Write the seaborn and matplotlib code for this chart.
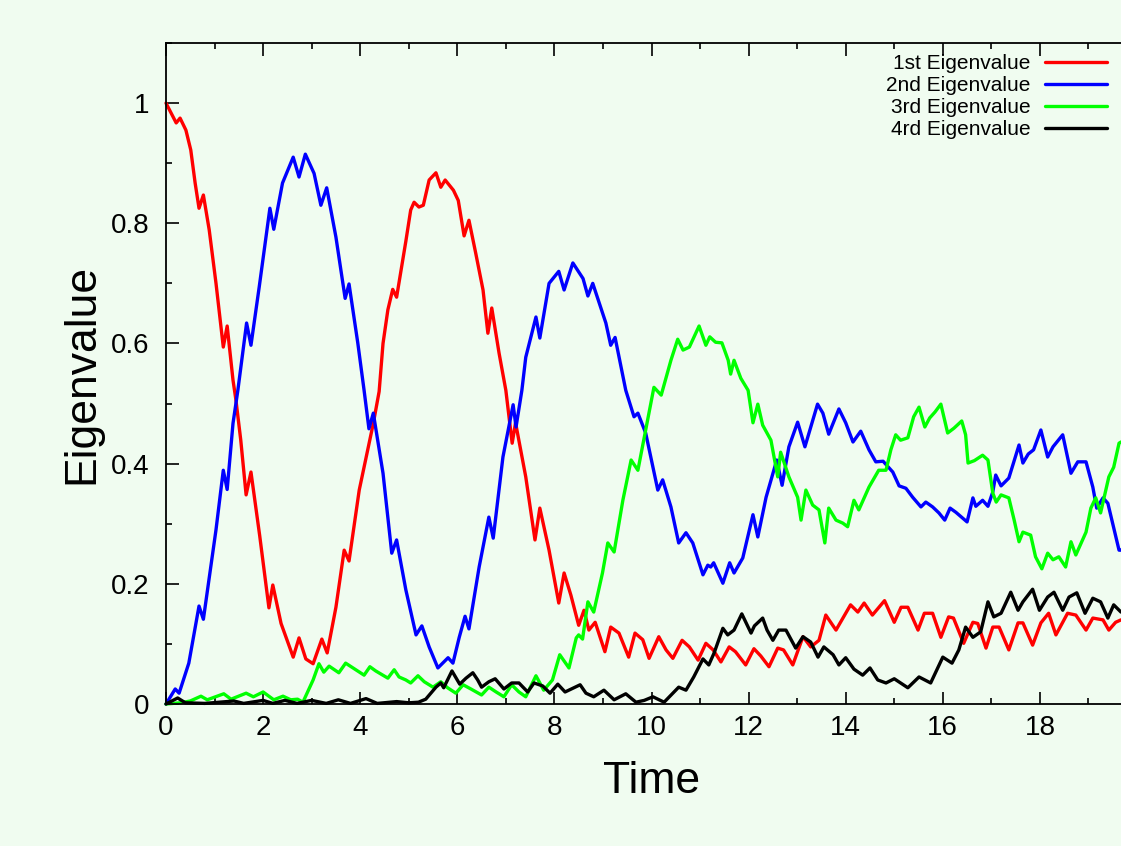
import numpy as np
import pandas as pd
import matplotlib
matplotlib.use("Agg")
import matplotlib.pyplot as plt
from matplotlib.lines import Line2D
from matplotlib.ticker import MultipleLocator
import seaborn as sns

# ---------------- data ----------------
series_names = ["1st Eigenvalue", "2nd Eigenvalue", "3rd Eigenvalue", "4rd Eigenvalue"]
series_colors = ["#ff0000", "#0000ff", "#00ff00", "#000000"]

red_t = [0, 0.21, 0.29, 0.41, 0.51, 0.60, 0.68, 0.77, 0.89, 1.03, 1.18, 1.26, 1.38, 1.44, 1.54,
         1.65, 1.75, 1.93, 2.12, 2.2, 2.37, 2.62, 2.74, 2.88, 3.03, 3.21, 3.32, 3.5, 3.67, 3.77,
         3.98, 4.27, 4.39, 4.47, 4.57, 4.67, 4.75, 4.94, 5.04, 5.11, 5.21, 5.3, 5.42, 5.56, 5.66,
         5.75, 5.92, 6.02, 6.14, 6.24, 6.38, 6.53, 6.63, 6.71, 6.86, 7.0, 7.13, 7.2, 7.41, 7.6,
         7.7, 7.89, 8.09, 8.2, 8.34, 8.5, 8.61, 8.71, 8.84, 9.04, 9.16, 9.33, 9.53, 9.66, 9.82,
         9.95, 10.15, 10.3, 10.44, 10.63, 10.78, 10.96, 11.12, 11.27, 11.43, 11.6, 11.73, 11.94,
         12.11, 12.25, 12.42, 12.6, 12.72, 12.91, 13.12, 13.28, 13.45, 13.59, 13.8, 14.0, 14.1,
         14.25, 14.38, 14.55, 14.8, 15.0, 15.14, 15.28, 15.49, 15.62, 15.79, 15.96, 16.12, 16.22,
         16.43, 16.62, 16.72, 16.89, 17.03, 17.16, 17.36, 17.55, 17.65, 17.85, 18.02, 18.18,
         18.33, 18.57, 18.74, 18.95, 19.09, 19.3, 19.42, 19.56, 19.67]
red_v = [1.0, 0.967, 0.975, 0.955, 0.922, 0.867, 0.825, 0.847, 0.789, 0.70, 0.594, 0.629, 0.539,
         0.506, 0.439, 0.348, 0.386, 0.28, 0.16, 0.198, 0.134, 0.078, 0.11, 0.075, 0.067, 0.108,
         0.085, 0.161, 0.256, 0.238, 0.356, 0.467, 0.52, 0.60, 0.656, 0.69, 0.677, 0.77, 0.822,
         0.835, 0.827, 0.83, 0.872, 0.884, 0.86, 0.872, 0.855, 0.838, 0.779, 0.805, 0.75, 0.689,
         0.617, 0.659, 0.584, 0.522, 0.434, 0.468, 0.378, 0.273, 0.326, 0.256, 0.168, 0.218,
         0.181, 0.131, 0.156, 0.123, 0.136, 0.087, 0.128, 0.118, 0.078, 0.118, 0.107, 0.076,
         0.112, 0.09, 0.076, 0.106, 0.095, 0.073, 0.101, 0.09, 0.07, 0.095, 0.087, 0.065, 0.092,
         0.08, 0.062, 0.093, 0.09, 0.065, 0.112, 0.095, 0.106, 0.148, 0.123, 0.151, 0.165, 0.153,
         0.168, 0.148, 0.172, 0.136, 0.161, 0.161, 0.123, 0.151, 0.151, 0.111, 0.145, 0.143,
         0.101, 0.136, 0.134, 0.093, 0.128, 0.128, 0.09, 0.135, 0.135, 0.098, 0.135, 0.151,
         0.115, 0.151, 0.148, 0.123, 0.143, 0.14, 0.123, 0.136, 0.14]

blue_t = [0, 0.19, 0.27, 0.47, 0.68, 0.77, 1.03, 1.18, 1.26, 1.38, 1.48, 1.66, 1.75, 1.92, 2.14,
          2.22, 2.4, 2.62, 2.74, 2.87, 3.05, 3.19, 3.31, 3.5, 3.69, 3.77, 3.95, 4.08, 4.18, 4.27,
          4.47, 4.65, 4.75, 4.94, 5.15, 5.27, 5.42, 5.6, 5.81, 5.91, 6.04, 6.16, 6.24, 6.45, 6.65,
          6.74, 6.94, 7.15, 7.21, 7.33, 7.41, 7.62, 7.7, 7.89, 8.09, 8.2, 8.38, 8.59, 8.69, 8.79,
          9.06, 9.16, 9.25, 9.47, 9.64, 9.72, 9.88, 10.13, 10.23, 10.4, 10.56, 10.71, 10.85,
          11.06, 11.16, 11.22, 11.28, 11.47, 11.61, 11.7, 11.88, 12.09, 12.19, 12.36, 12.58,
          12.69, 12.83, 13.01, 13.16, 13.42, 13.53, 13.65, 13.86, 14.0, 14.15, 14.31, 14.48,
          14.62, 14.77, 14.97, 15.1, 15.24, 15.38, 15.55, 15.65, 15.79, 15.92, 16.04, 16.15,
          16.27, 16.5, 16.62, 16.68, 16.82, 16.93, 17.03, 17.09, 17.2, 17.36, 17.57, 17.65,
          17.76, 17.87, 18.02, 18.16, 18.27, 18.47, 18.64, 18.78, 18.95, 19.09, 19.17, 19.3,
          19.4, 19.63, 19.67]
blue_v = [0.0, 0.025, 0.018, 0.068, 0.163, 0.141, 0.29, 0.389, 0.357, 0.467, 0.522, 0.634, 0.597,
          0.694, 0.825, 0.79, 0.867, 0.91, 0.877, 0.915, 0.883, 0.83, 0.859, 0.777, 0.675, 0.699,
          0.601, 0.522, 0.458, 0.484, 0.384, 0.251, 0.273, 0.19, 0.115, 0.13, 0.095, 0.06, 0.077,
          0.068, 0.111, 0.146, 0.125, 0.228, 0.311, 0.276, 0.411, 0.498, 0.461, 0.522, 0.577,
          0.644, 0.609, 0.70, 0.72, 0.689, 0.734, 0.708, 0.679, 0.70, 0.634, 0.597, 0.61, 0.522,
          0.478, 0.484, 0.451, 0.356, 0.373, 0.328, 0.268, 0.285, 0.268, 0.215, 0.231, 0.228,
          0.235, 0.201, 0.235, 0.218, 0.243, 0.315, 0.278, 0.344, 0.406, 0.364, 0.428, 0.469,
          0.428, 0.499, 0.484, 0.449, 0.491, 0.468, 0.436, 0.454, 0.423, 0.403, 0.404, 0.386,
          0.363, 0.359, 0.344, 0.328, 0.336, 0.328, 0.318, 0.306, 0.326, 0.319, 0.303, 0.343,
          0.329, 0.339, 0.329, 0.353, 0.381, 0.363, 0.376, 0.431, 0.401, 0.416, 0.423, 0.456,
          0.411, 0.428, 0.448, 0.384, 0.403, 0.403, 0.361, 0.326, 0.343, 0.334, 0.256, 0.256]

green_t = [0, 0.3, 0.5, 0.72, 0.85, 1.19, 1.34, 1.65, 1.8, 2.0, 2.22, 2.41, 2.57, 2.71, 2.82,
           3.03, 3.15, 3.25, 3.36, 3.56, 3.7, 3.91, 4.08, 4.2, 4.32, 4.57, 4.7, 4.8, 4.94, 5.04,
           5.19, 5.32, 5.5, 5.66, 5.8, 5.97, 6.12, 6.28, 6.5, 6.65, 6.8, 6.96, 7.12, 7.27, 7.41,
           7.62, 7.78, 7.96, 8.11, 8.3, 8.45, 8.5, 8.58, 8.69, 8.81, 8.99, 9.1, 9.23, 9.41, 9.58,
           9.72, 9.88, 10.05, 10.2, 10.4, 10.54, 10.65, 10.78, 10.98, 11.12, 11.2, 11.32, 11.45,
           11.58, 11.63, 11.7, 11.84, 11.99, 12.09, 12.19, 12.29, 12.46, 12.6, 12.66, 12.83,
           13.01, 13.08, 13.18, 13.32, 13.45, 13.57, 13.65, 13.8, 13.94, 14.04, 14.17, 14.27,
           14.48, 14.68, 14.83, 14.93, 15.03, 15.13, 15.28, 15.4, 15.51, 15.63, 15.73, 15.84,
           15.96, 16.1, 16.23, 16.39, 16.47, 16.52, 16.65, 16.82, 16.93, 17.03, 17.1, 17.2, 17.36,
           17.47, 17.57, 17.65, 17.81, 17.91, 18.04, 18.16, 18.27, 18.39, 18.53, 18.64, 18.74,
           18.95, 19.05, 19.15, 19.25, 19.42, 19.52, 19.63, 19.67]
green_v = [0.0, 0.002, 0.005, 0.013, 0.007, 0.017, 0.008, 0.018, 0.012, 0.02, 0.007, 0.013, 0.007,
           0.008, 0.003, 0.04, 0.067, 0.053, 0.063, 0.052, 0.068, 0.057, 0.048, 0.062, 0.055,
           0.043, 0.057, 0.045, 0.04, 0.035, 0.047, 0.037, 0.028, 0.037, 0.027, 0.018, 0.032,
           0.025, 0.015, 0.028, 0.02, 0.012, 0.032, 0.02, 0.012, 0.047, 0.023, 0.04, 0.082, 0.06,
           0.11, 0.115, 0.108, 0.17, 0.153, 0.218, 0.268, 0.253, 0.339, 0.406, 0.389, 0.456,
           0.527, 0.514, 0.572, 0.607, 0.589, 0.594, 0.629, 0.597, 0.611, 0.602, 0.601, 0.572,
           0.549, 0.572, 0.542, 0.522, 0.468, 0.499, 0.464, 0.439, 0.378, 0.419, 0.378, 0.344,
           0.306, 0.356, 0.331, 0.323, 0.268, 0.326, 0.306, 0.301, 0.295, 0.339, 0.323, 0.361,
           0.389, 0.389, 0.423, 0.448, 0.439, 0.443, 0.478, 0.494, 0.461, 0.476, 0.486, 0.499,
           0.451, 0.459, 0.471, 0.448, 0.401, 0.405, 0.414, 0.406, 0.351, 0.336, 0.348, 0.343,
           0.306, 0.27, 0.286, 0.281, 0.245, 0.225, 0.251, 0.24, 0.245, 0.228, 0.27, 0.248,
           0.286, 0.326, 0.343, 0.318, 0.378, 0.394, 0.434, 0.436]

black_t = [0, 0.24, 0.4, 0.8, 1.4, 1.6, 2.0, 2.2, 2.45, 2.7, 3.0, 3.3, 3.55, 3.8, 4.12, 4.35,
           4.75, 5.0, 5.2, 5.35, 5.56, 5.66, 5.72, 5.89, 6.05, 6.18, 6.32, 6.42, 6.5, 6.65, 6.78,
           6.96, 7.12, 7.27, 7.45, 7.58, 7.76, 7.91, 8.07, 8.22, 8.53, 8.65, 8.81, 9.02, 9.23,
           9.47, 9.68, 9.85, 10.03, 10.26, 10.56, 10.71, 10.87, 11.06, 11.18, 11.29, 11.47, 11.57,
           11.7, 11.86, 12.05, 12.12, 12.29, 12.38, 12.5, 12.62, 12.77, 12.97, 13.12, 13.28,
           13.43, 13.55, 13.74, 13.86, 14.0, 14.17, 14.35, 14.5, 14.66, 14.83, 15.0, 15.28,
           15.51, 15.75, 16.0, 16.19, 16.33, 16.47, 16.62, 16.78, 16.93, 17.05, 17.2, 17.4,
           17.55, 17.65, 17.85, 17.99, 18.16, 18.29, 18.47, 18.6, 18.76, 18.93, 19.09, 19.25,
           19.4, 19.52, 19.67]
black_v = [0.0, 0.01, 0.002, 0.001, 0.005, 0.001, 0.006, 0.001, 0.006, 0.001, 0.006, 0.001, 0.007,
           0.001, 0.009, 0.001, 0.004, 0.002, 0.003, 0.008, 0.028, 0.035, 0.027, 0.055, 0.033,
           0.043, 0.052, 0.04, 0.028, 0.037, 0.042, 0.025, 0.035, 0.035, 0.02, 0.035, 0.03,
           0.018, 0.033, 0.02, 0.032, 0.018, 0.012, 0.023, 0.007, 0.017, 0.003, 0.006, 0.012,
           0.003, 0.028, 0.023, 0.045, 0.075, 0.065, 0.085, 0.126, 0.115, 0.123, 0.15, 0.118,
           0.13, 0.143, 0.123, 0.106, 0.123, 0.123, 0.093, 0.112, 0.103, 0.078, 0.095, 0.082,
           0.065, 0.077, 0.058, 0.048, 0.06, 0.04, 0.035, 0.042, 0.027, 0.045, 0.035, 0.078,
           0.068, 0.09, 0.128, 0.111, 0.12, 0.17, 0.145, 0.151, 0.186, 0.156, 0.17, 0.191, 0.156,
           0.178, 0.186, 0.156, 0.178, 0.185, 0.151, 0.176, 0.17, 0.143, 0.165, 0.153]

x_ticks = [0, 2, 4, 6, 8, 10, 12, 14, 16, 18, 20]
x_tick_labels = ["0", "2", "4", "6", "8", "10", "12", "14", "16", "18", ""]
y_ticks = [0, 0.2, 0.4, 0.6, 0.8, 1.0]
y_tick_labels = ["0", "0.2", "0.4", "0.6", "0.8", "1"]

# ---------------- build long-form table ----------------
frames = []
for name, t, v in zip(series_names,
                      [red_t, blue_t, green_t, black_t],
                      [red_v, blue_v, green_v, black_v]):
    frames.append(pd.DataFrame({"Time": t, "Eigenvalue": v, "series": name}))
df = pd.concat(frames, ignore_index=True)

# ---------------- style ----------------
sns.set_style("ticks")
bg = "#f0fcf0"
plt.rcParams["font.family"] = ["Liberation Sans", "DejaVu Sans"]
plt.rcParams["figure.facecolor"] = bg
plt.rcParams["axes.facecolor"] = bg
plt.rcParams["savefig.facecolor"] = bg

W, H = 1121, 846
fig = plt.figure(figsize=(W / 100, H / 100), dpi=100)
ax_left, ax_right, ax_top, ax_bottom = 166, 1137, 43, 704
ax = fig.add_axes([ax_left / W, 1 - ax_bottom / H,
                   (ax_right - ax_left) / W, (ax_bottom - ax_top) / H])

sns.lineplot(data=df, x="Time", y="Eigenvalue", hue="series",
             hue_order=series_names, palette=series_colors,
             estimator=None, sort=True, linewidth=2.4, legend=False, ax=ax)
for ln in ax.get_lines():
    ln.set_clip_on(False)
    ln.set_solid_joinstyle("round")
    ln.set_solid_capstyle("round")

ax.set_xlim(0, 20)
ax.set_ylim(0, 1.1)
ax.set_xticks(x_ticks)
ax.set_xticklabels(x_tick_labels)
ax.set_yticks(y_ticks)
ax.set_yticklabels(y_tick_labels)
ax.xaxis.set_minor_locator(MultipleLocator(1))
ax.yaxis.set_minor_locator(MultipleLocator(0.1))

for sp in ax.spines.values():
    sp.set_visible(True)
    sp.set_linewidth(1.3)
    sp.set_color("black")

ax.tick_params(which="both", direction="in", top=True, right=True,
               color="black", width=1.2)
ax.tick_params(which="major", length=9, labelsize=20, pad=8, labelcolor="black")
ax.tick_params(which="minor", length=4.5)
ax.tick_params(axis="y", which="major", pad=12)

ax.set_xlabel("Time", fontsize=32, labelpad=14, color="black")
ax.set_ylabel("Eigenvalue", fontsize=32, labelpad=6, color="black")

handles = [Line2D([], [], color=c, linewidth=2.4) for c in series_colors]
leg = ax.legend(handles, series_names, loc="upper right",
                bbox_to_anchor=(1107 / W, 1 - 54 / H), bbox_transform=fig.transFigure,
                frameon=False, markerfirst=False, fontsize=15, handlelength=3.0,
                handletextpad=0.67, labelspacing=0.15, borderpad=0, borderaxespad=0)
for txt in leg.get_texts():
    txt.set_color("black")

fig.savefig("out.png", dpi=100, facecolor=bg)
